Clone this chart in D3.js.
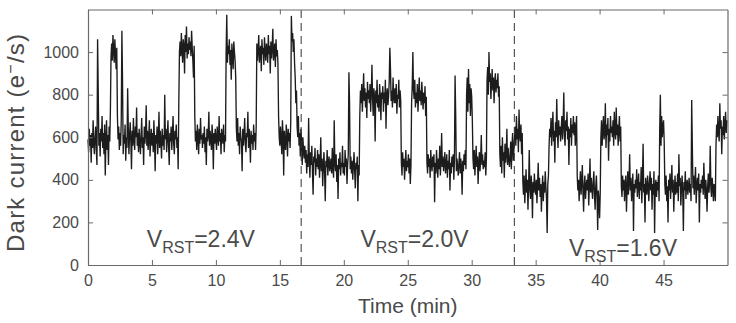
<!DOCTYPE html>
<html>
<head>
<meta charset="utf-8">
<script src="https://cdn.jsdelivr.net/npm/d3@7"></script>
<style>
  html, body { margin: 0; padding: 0; background: #fff; }
  svg { display: block; }
  text { font-family: "Liberation Sans", Arial, Helvetica, sans-serif; }
</style>
</head>
<body>
<svg id="chart" width="736" height="323"></svg>
<script>
// ---------------- data ----------------
// sampling interval of the trace (minutes)
const sampleMinutes = 0.05;
// dark current samples (e-/s), one row per minute, 20 samples per row
const darkCurrent = [
  590, 530, 640, 560, 610, 480, 620, 550, 680, 570, 520, 600, 650, 540, 470, 1060, 820, 560, 620, 510,      // 0
  640, 580, 700, 550, 620, 520, 660, 420, 590, 680, 540, 610, 470, 650, 580, 720, 980, 1040, 960, 1080,     // 1
  1010, 950, 1060, 990, 920, 1020, 700, 590, 650, 540, 620, 560, 680, 1100, 860, 520, 610, 570, 660, 490,   // 2
  600, 550, 830, 640, 520, 610, 670, 580, 450, 630, 560, 690, 590, 540, 650, 600, 740, 560, 620, 530,       // 3
  640, 580, 520, 610, 690, 550, 600, 470, 650, 570, 620, 750, 560, 630, 540, 600, 680, 510, 590, 640,       // 4
  560, 620, 530, 680, 590, 440, 610, 570, 650, 520, 600, 720, 550, 630, 580, 500, 640, 560, 610, 540,       // 5
  800, 590, 640, 530, 600, 680, 560, 470, 620, 580, 650, 540, 610, 700, 570, 520, 630, 590, 660, 550,       // 6
  600, 450, 760, 1000, 1050, 980, 1090, 1010, 950, 1060, 1030, 900, 1080, 1000, 1120, 970, 1040, 990, 1070, 1010, // 7
  1050, 980, 1100, 1020, 960, 880, 1030, 700, 580, 630, 540, 660, 600, 520, 640, 570, 690, 590, 610, 550,   // 8
  620, 570, 650, 530, 600, 470, 640, 580, 610, 720, 560, 630, 590, 540, 660, 600, 450, 620, 570, 640,       // 9
  590, 540, 650, 600, 560, 700, 580, 620, 520, 640, 600, 570, 660, 530, 610, 580, 1000, 1175, 950, 1030,    // 10
  990, 1060, 940, 1010, 870, 1040, 980, 920, 1050, 1000, 960, 880, 640, 580, 690, 560, 620, 520, 650, 600,  // 11
  580, 440, 640, 560, 610, 690, 570, 530, 620, 600, 720, 550, 640, 590, 480, 630, 570, 610, 540, 660,       // 12
  580, 620, 540, 650, 1040, 960, 1010, 1080, 950, 1000, 1030, 910, 1060, 990, 1020, 940, 1070, 1000, 960, 1040, // 13
  1010, 950, 1080, 990, 1030, 900, 1050, 970, 1020, 1110, 960, 1000, 1040, 930, 1060, 980, 1010, 950, 700, 600, // 14
  560, 650, 590, 520, 680, 610, 420, 630, 570, 540, 660, 600, 510, 640, 580, 620, 550, 670, 1170, 1050,     // 15
  1090, 1000, 1060, 950, 880, 760, 820, 650, 600, 700, 560, 620, 510, 640, 580, 470, 600, 540, 500, 560,    // 16
  480, 540, 430, 520, 460, 690, 500, 410, 530, 470, 560, 440, 330, 510, 480, 550, 420, 500, 460, 540,       // 17
  450, 520, 410, 480, 600, 440, 500, 370, 470, 530, 430, 300, 490, 460, 540, 420, 480, 510, 440, 470,       // 18
  500, 430, 550, 460, 410, 680, 480, 440, 520, 390, 470, 310, 500, 450, 530, 420, 480, 460, 560, 430,       // 19
  480, 420, 540, 460, 500, 380, 470, 520, 905, 760, 450, 510, 430, 490, 400, 470, 530, 440, 360, 480,       // 20
  450, 510, 300, 470, 420, 700, 820, 760, 850, 720, 800, 900, 770, 830, 740, 810, 690, 860, 780, 820,       // 21
  760, 850, 720, 810, 940, 780, 700, 830, 790, 580, 820, 760, 870, 740, 800, 720, 850, 790, 680, 810,       // 22
  780, 840, 720, 810, 760, 870, 640, 800, 830, 750, 790, 860, 1020, 920, 770, 820, 740, 880, 790, 760,      // 23
  830, 760, 850, 710, 800, 780, 870, 740, 820, 770, 480, 420, 530, 460, 500, 400, 470, 540, 440, 490,       // 24
  460, 520, 430, 500, 380, 470, 760, 840, 1000, 820, 780, 870, 740, 810, 760, 850, 720, 800, 880, 770,      // 25
  820, 750, 860, 790, 730, 810, 760, 840, 700, 790, 480, 430, 520, 460, 500, 410, 540, 470, 440, 510,       // 26
  460, 520, 295, 480, 430, 540, 470, 410, 500, 450, 560, 420, 490, 620, 460, 510, 440, 480, 530, 430,       // 27
  470, 520, 410, 490, 450, 540, 350, 480, 430, 510, 460, 520, 400, 490, 890, 700, 440, 500, 460, 420,       // 28
  480, 530, 430, 500, 460, 330, 490, 440, 520, 470, 540, 450, 800, 880, 720, 920, 760, 850, 700, 830,       // 29
  790, 680, 500, 450, 540, 420, 490, 560, 460, 510, 380, 480, 530, 440, 500, 610, 470, 520, 450, 490,       // 30
  460, 530, 420, 500, 870, 930, 800, 1000, 860, 900, 780, 850, 920, 820, 880, 760, 860, 900, 810, 870,      // 31
  830, 900, 790, 840, 520, 460, 560, 430, 600, 490, 530, 410, 570, 480, 520, 640, 470, 550, 500, 460,       // 32
  510, 580, 450, 560, 620, 490, 540, 600, 650, 560, 700, 590, 640, 530, 730, 610, 580, 660, 520, 620,       // 33
  390, 330, 420, 290, 370, 450, 340, 400, 260, 380, 540, 350, 310, 420, 370, 220, 390, 340, 430, 360,       // 34
  330, 400, 290, 370, 480, 350, 410, 320, 380, 250, 360, 420, 300, 390, 340, 440, 370, 310, 150, 380,       // 35
  420, 560, 640, 600, 690, 560, 650, 720, 580, 630, 480, 670, 600, 780, 620, 550, 680, 610, 650, 580,       // 36
  640, 700, 590, 660, 810, 610, 560, 680, 630, 720, 590, 650, 470, 640, 600, 690, 560, 660, 620, 700,       // 37
  610, 670, 560, 640, 700, 420, 350, 400, 300, 380, 440, 330, 390, 470, 340, 250, 380, 420, 310, 370,       // 38
  400, 350, 430, 280, 380, 500, 340, 410, 360, 310, 390, 440, 330, 260, 370, 420, 320, 165, 350, 300,       // 39
  220, 340, 600, 680, 560, 640, 700, 590, 620, 760, 550, 660, 610, 690, 490, 640, 580, 700, 620, 650,       // 40
  600, 680, 560, 720, 630, 590, 740, 610, 660, 560, 640, 700, 580, 650, 370, 320, 420, 350, 400, 300,       // 41
  380, 420, 250, 360, 440, 330, 390, 520, 350, 410, 300, 370, 430, 160, 380, 340, 400, 360, 450, 320,       // 42
  370, 430, 310, 390, 350, 460, 290, 400, 570, 340, 380, 200, 410, 360, 330, 420, 370, 300, 390, 440,       // 43
  350, 410, 260, 380, 330, 440, 150, 370, 400, 320, 390, 350, 420, 300, 640, 800, 560, 700, 600, 650,       // 44
  680, 580, 380, 330, 420, 300, 370, 200, 400, 350, 430, 310, 380, 470, 340, 400, 250, 360, 420, 330,       // 45
  390, 340, 430, 300, 520, 370, 410, 280, 360, 420, 340, 160, 390, 350, 440, 310, 380, 400, 330, 370,       // 46
  410, 340, 380, 300, 775, 560, 360, 420, 330, 390, 460, 290, 370, 410, 350, 430, 200, 380, 340, 400,       // 47
  360, 420, 330, 480, 380, 310, 400, 350, 250, 370, 430, 340, 390, 560, 360, 320, 410, 370, 300, 380,       // 48
  350, 300, 560, 660, 600, 700, 620, 580, 760, 640, 680, 520, 650, 610, 700, 590, 660, 720, 620, 680        // 49
];
const xTickValues = [0, 5, 10, 15, 20, 25, 30, 35, 40, 45];
const yTickValues = [0, 200, 400, 600, 800, 1000];
const switchTimes = [50 / 3, 100 / 3];
const regionLabels = ["2.4V", "2.0V", "1.6V"];
const regionLabelTimes = [4.6, 21.3, 37.6];
const regionLabelValues = [85, 85, 40];

// ---------------- layout ----------------
const svg = d3.select("#chart");
const L = 88, R = 727.5, T = 9.5, B = 265;
const x = d3.scaleLinear().domain([0, 50]).range([L, R]);
const y = d3.scaleLinear().domain([0, 1200]).range([B, T]);
const axisColor = "#6a6a6a";
const textColor = "#4a4a4a";

// trace
const line = d3.line()
  .x((d, i) => x(i * sampleMinutes))
  .y(d => y(d));
svg.append("path")
  .datum(darkCurrent)
  .attr("d", line)
  .attr("fill", "none")
  .attr("stroke", "#1c1c1c")
  .attr("stroke-width", 1.35)
  .attr("stroke-linejoin", "bevel");

// dashed separators
svg.selectAll("line.sep").data(switchTimes).enter().append("line")
  .attr("class", "sep")
  .attr("x1", d => x(d)).attr("x2", d => x(d))
  .attr("y1", B).attr("y2", T)
  .attr("stroke", "#333").attr("stroke-width", 1)
  .attr("stroke-dasharray", "8,5");

// axes (inward ticks on all four sides)
const fmt = d3.format("d");
const gB = svg.append("g").attr("transform", `translate(0,${B})`)
  .call(d3.axisBottom(x).tickValues(xTickValues).tickFormat(fmt).tickSizeInner(-5).tickSizeOuter(0).tickPadding(10));
const gT = svg.append("g").attr("transform", `translate(0,${T})`)
  .call(d3.axisTop(x).tickValues(xTickValues).tickSizeInner(-5).tickSizeOuter(0).tickFormat(""));
const gL = svg.append("g").attr("transform", `translate(${L},0)`)
  .call(d3.axisLeft(y).tickValues(yTickValues).tickFormat(fmt).tickSizeInner(-5).tickSizeOuter(0).tickPadding(9));
const gR = svg.append("g").attr("transform", `translate(${R},0)`)
  .call(d3.axisRight(y).tickValues(yTickValues).tickSizeInner(-5).tickSizeOuter(0).tickFormat(""));
[gB, gT, gL, gR].forEach(g => {
  g.select(".domain").attr("stroke", axisColor).attr("stroke-width", 1.2);
  g.selectAll(".tick line").attr("stroke", axisColor);
  g.selectAll(".tick text").attr("fill", textColor).style("font-size", "16px")
    .style("font-family", '"Liberation Sans", Arial, sans-serif');
});

// axis titles
svg.append("text")
  .attr("x", x(25)).attr("y", 313)
  .attr("text-anchor", "middle")
  .attr("fill", textColor)
  .style("font-size", "21px")
  .text("Time (min)");
const yl = svg.append("text")
  .attr("transform", `translate(24,143) rotate(-90)`)
  .attr("text-anchor", "middle")
  .attr("fill", textColor)
  .attr("textLength", 218)
  .attr("lengthAdjust", "spacing")
  .style("font-size", "24px");
yl.append("tspan").text("Dark current (e");
yl.append("tspan").attr("dy", -8).style("font-size", "16px").text("\u2212");
yl.append("tspan").attr("dy", 8).text("/s)");

// region labels
regionLabels.forEach((lab, i) => {
  const t = svg.append("text")
    .attr("x", x(regionLabelTimes[i])).attr("y", y(regionLabelValues[i]))
    .attr("fill", textColor)
    .style("font-size", "23px");
  t.append("tspan").text("V");
  t.append("tspan").attr("dy", 6).style("font-size", "16px").text("RST");
  t.append("tspan").attr("dy", -6).text("=" + lab);
});
</script>
</body>
</html>
